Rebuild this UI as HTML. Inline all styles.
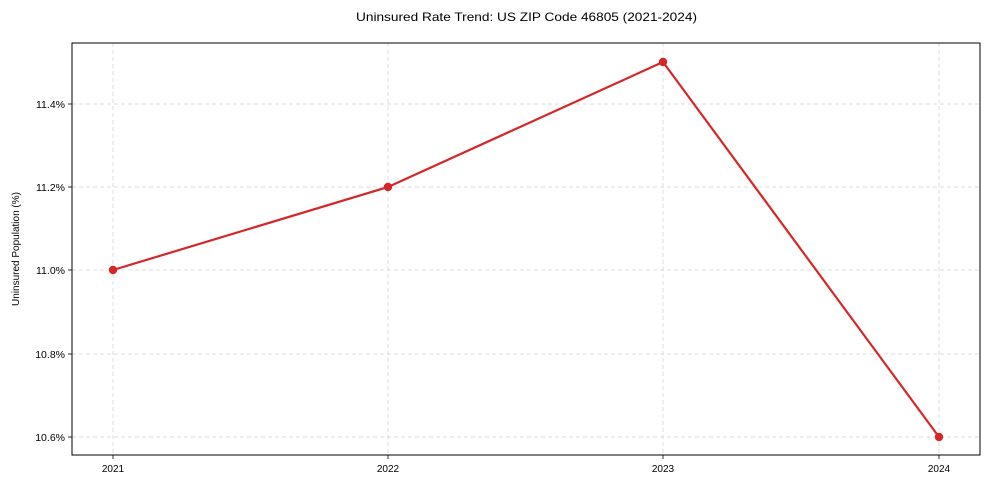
<!DOCTYPE html>
<html><head><meta charset="utf-8"><style>
html,body{margin:0;padding:0;background:#fff;}
svg{display:block;font-family:"Liberation Sans",Arial,sans-serif;}
</style></head><body>
<svg width="989" height="490" viewBox="0 0 989 490" xmlns="http://www.w3.org/2000/svg">
<rect width="989" height="490" fill="#fff"/>
<text x="356" y="21" font-size="12" textLength="341" lengthAdjust="spacingAndGlyphs" fill="#000">Uninsured Rate Trend: US ZIP Code 46805 (2021-2024)</text>
<g stroke="#d4d4d4" stroke-width="0.8" stroke-dasharray="4,3">
<line x1="113" y1="43" x2="113" y2="455"/>
<line x1="388" y1="43" x2="388" y2="455"/>
<line x1="663" y1="43" x2="663" y2="455"/>
<line x1="939" y1="43" x2="939" y2="455"/>
<line x1="72" y1="104" x2="980" y2="104"/>
<line x1="72" y1="187" x2="980" y2="187"/>
<line x1="72" y1="270" x2="980" y2="270"/>
<line x1="72" y1="354" x2="980" y2="354"/>
<line x1="72" y1="437" x2="980" y2="437"/>
</g>
<rect x="72" y="43" width="908" height="412" fill="none" stroke="#000" stroke-width="1"/>
<g stroke="#000" stroke-width="0.8">
<line x1="68" y1="104" x2="72" y2="104"/><line x1="68" y1="187" x2="72" y2="187"/>
<line x1="68" y1="270" x2="72" y2="270"/><line x1="68" y1="354" x2="72" y2="354"/>
<line x1="68" y1="437" x2="72" y2="437"/>
<line x1="113" y1="455" x2="113" y2="459"/><line x1="388" y1="455" x2="388" y2="459"/>
<line x1="663" y1="455" x2="663" y2="459"/><line x1="939" y1="455" x2="939" y2="459"/>
</g>
<g font-size="10.5" fill="#000" text-anchor="end">
<text x="65" y="108">11.4%</text><text x="65" y="191">11.2%</text>
<text x="65" y="274">11.0%</text><text x="65" y="358">10.8%</text>
<text x="65" y="441">10.6%</text>
</g>
<g font-size="10" fill="#000" text-anchor="middle">
<text x="113" y="472">2021</text><text x="388" y="472">2022</text>
<text x="663" y="472">2023</text><text x="939" y="472">2024</text>
</g>
<text transform="translate(19,249) rotate(-90)" font-size="10" text-anchor="middle" fill="#000">Uninsured Population (%)</text>
<polyline points="113,270 388,187 663,62 939,437" fill="none" stroke="#d62728" stroke-width="2.2" stroke-linejoin="round"/>
<g fill="#d62728">
<circle cx="113" cy="270" r="4.2"/><circle cx="388" cy="187" r="4.2"/>
<circle cx="663" cy="62" r="4.2"/><circle cx="939" cy="437" r="4.2"/>
</g>
</svg>
</body></html>
